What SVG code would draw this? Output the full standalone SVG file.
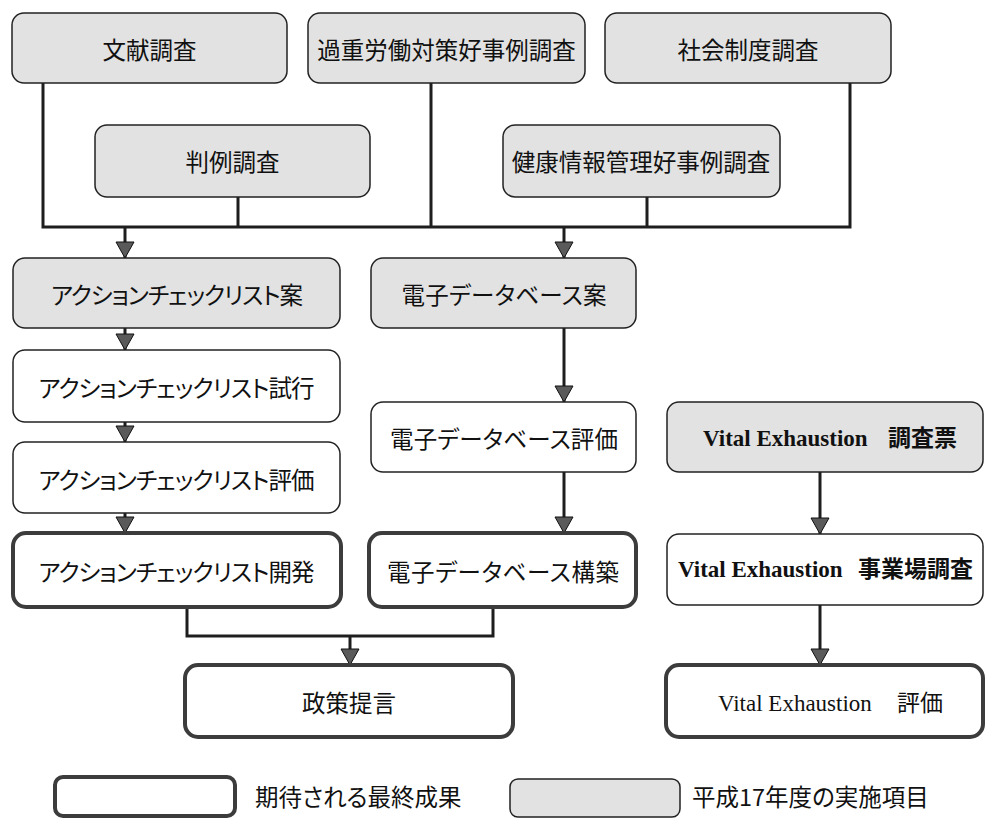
<svg xmlns="http://www.w3.org/2000/svg" width="985" height="819" viewBox="0 0 985 819">
<style>
.g{fill:#e2e2e2;stroke:#222;stroke-width:1.5}
.w{fill:#fff;stroke:#222;stroke-width:1.5}
.b{fill:#fff;stroke:#3c3c3c;stroke-width:4}
.t{font-family:"Noto Sans CJK JP",sans-serif;font-size:23.5px;fill:#111;text-anchor:middle;font-feature-settings:"palt"}
.ls{text-anchor:start}
.ve{font-family:"Liberation Serif","Noto Sans CJK JP",serif;font-size:23px;fill:#111}
.vb{font-weight:bold}
.c{fill:none;stroke:#1e1e1e;stroke-width:3}
</style>
<defs>
<marker id="ah" markerUnits="userSpaceOnUse" markerWidth="20" markerHeight="20" viewBox="0 0 20 20" refX="17" refY="10" orient="auto">
<path d="M1,1 L17,10 L1,19 Z" fill="#5a5a5a" stroke="#111" stroke-width="1"/>
</marker>
</defs>
<g id="connectors">
<path class="c" d="M43,83 V227 M431,83 V227 M850,83 V227 M238,197 V227 M647,197 V227 M41.5,227 H851.5"/>
<path class="c" d="M187,607 V636 H493 V607"/>
<line class="c" x1="125" y1="227" x2="125" y2="258" marker-end="url(#ah)"/>
<line class="c" x1="564" y1="227" x2="564" y2="258" marker-end="url(#ah)"/>
<line class="c" x1="125" y1="328" x2="125" y2="350" marker-end="url(#ah)"/>
<line class="c" x1="125" y1="422" x2="125" y2="442" marker-end="url(#ah)"/>
<line class="c" x1="125" y1="513" x2="125" y2="533" marker-end="url(#ah)"/>
<line class="c" x1="564" y1="328" x2="564" y2="402" marker-end="url(#ah)"/>
<line class="c" x1="564" y1="472" x2="564" y2="533" marker-end="url(#ah)"/>
<line class="c" x1="350" y1="636" x2="350" y2="665" marker-end="url(#ah)"/>
<line class="c" x1="820" y1="472" x2="820" y2="534" marker-end="url(#ah)"/>
<line class="c" x1="820" y1="605" x2="820" y2="665" marker-end="url(#ah)"/>
</g>
<g id="n-bunken"><rect class="g" x="12" y="13" width="275" height="70" rx="12"/><text class="t" x="149.5" y="59">文献調査</text></g>
<g id="n-kajuu"><rect class="g" x="308" y="13" width="277" height="70" rx="12"/><text class="t" x="446.5" y="59">過重労働対策好事例調査</text></g>
<g id="n-shakai"><rect class="g" x="605" y="13" width="286" height="70" rx="12"/><text class="t" x="748" y="59">社会制度調査</text></g>
<g id="n-hanrei"><rect class="g" x="95" y="125" width="275" height="72" rx="12"/><text class="t" x="232.5" y="171">判例調査</text></g>
<g id="n-kenkou"><rect class="g" x="503" y="125" width="277" height="72" rx="12"/><text class="t" x="641" y="171">健康情報管理好事例調査</text></g>
<g id="n-ac-an"><rect class="g" x="13" y="258" width="327" height="70" rx="12"/><text class="t" x="177" y="304" textLength="252">アクションチェックリスト案</text></g>
<g id="n-ac-shikou"><rect class="w" x="13" y="350" width="327" height="72" rx="12"/><text class="t" x="176.5" y="397" textLength="276">アクションチェックリスト試行</text></g>
<g id="n-ac-hyouka"><rect class="w" x="13" y="442" width="327" height="71" rx="12"/><text class="t" x="176.5" y="488.5" textLength="276">アクションチェックリスト評価</text></g>
<g id="n-ac-kaihatsu"><rect class="b" x="13" y="533" width="328" height="74" rx="13"/><text class="t" x="176.5" y="581" textLength="276">アクションチェックリスト開発</text></g>
<g id="n-db-an"><rect class="g" x="371" y="258" width="265" height="70" rx="12"/><text class="t" x="504" y="304" textLength="205">電子データベース案</text></g>
<g id="n-db-hyouka"><rect class="w" x="371" y="402" width="265" height="70" rx="12"/><text class="t" x="504" y="448" textLength="228">電子データベース評価</text></g>
<g id="n-db-kouchiku"><rect class="b" x="369" y="533" width="267" height="74" rx="13"/><text class="t" x="503" y="581" textLength="232">電子データベース構築</text></g>
<g id="n-seisaku"><rect class="b" x="185" y="665" width="328" height="72" rx="13"/><text class="t" x="349" y="712">政策提言</text></g>
<g id="n-ve-chousahyou"><rect class="g" x="667" y="402" width="316" height="70" rx="12"/><text class="ve vb" x="703" y="446">Vital Exhaustion<tspan x="888">調査票</tspan></text></g>
<g id="n-ve-jigyoujou"><rect class="w" x="667" y="534" width="316" height="71" rx="12"/><text class="ve vb" x="678" y="577">Vital Exhaustion<tspan x="858">事業場調査</tspan></text></g>
<g id="n-ve-hyouka"><rect class="b" x="666" y="665" width="317" height="72" rx="13"/><text class="ve" x="718" y="711">Vital Exhaustion<tspan x="897">評価</tspan></text></g>
<g id="legend">
<rect class="b" x="55" y="777" width="180" height="39" rx="8"/>
<text class="t ls" x="255" y="806">期待される最終成果</text>
<rect class="g" x="510" y="779" width="170" height="38" rx="8"/>
<text class="t ls" x="692" y="806">平成17年度の実施項目</text>
</g>
</svg>
